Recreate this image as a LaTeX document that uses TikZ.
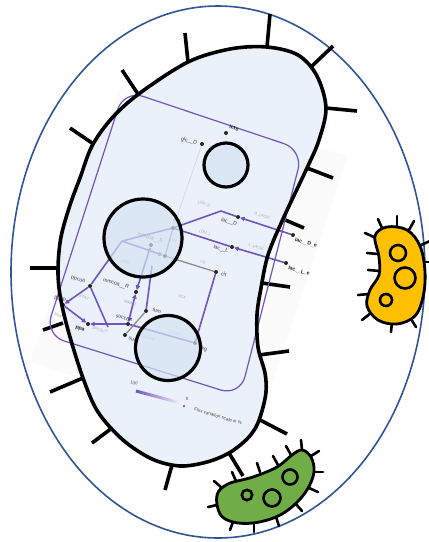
\documentclass[tikz,border=0pt]{standalone}
\usepackage{fontspec}
\setmainfont{Liberation Sans}
\usetikzlibrary{arrows.meta}
\definecolor{ringblue}{RGB}{47,85,151}
\definecolor{cellfill}{RGB}{234,241,250}
\definecolor{vacfill}{RGB}{214,228,244}
\definecolor{mpurple}{RGB}{112,84,192}
\definecolor{yellowbug}{RGB}{255,192,0}
\definecolor{greenbug}{RGB}{112,173,71}

\tikzset{
  spike/.style={line width=3.6pt, line cap=butt},
  bugspike/.style={line width=2.6pt, line cap=round},
  rxn/.style={draw=mpurple, line width=1.6pt},
  rxngray/.style={draw=black!45, line width=1.3pt},
  rxnfaint/.style={draw=mpurple!25, line width=0.8pt},
  comp/.style={draw=mpurple, line width=1.2pt, rounded corners=20pt},
  met/.style={circle, fill=black!85, inner sep=0pt, minimum size=4pt},
  mlab/.style={font=\fontsize{5.2}{6}\selectfont, text=black!75, inner sep=0.5pt, rotate=-16},
  mlabb/.style={font=\fontsize{5.2}{6}\selectfont\bfseries, text=black!85, inner sep=0.5pt, rotate=-16},
  rlab/.style={font=\fontsize{3.9}{4.5}\selectfont\itshape, text=black!35, inner sep=0.5pt, rotate=-16},
  vac/.style={draw=black, line width=3.2pt, fill=vacfill, fill opacity=0.7},
  >={Triangle[length=4.4pt,width=4.4pt]}
}

\def\cellpath{plot[smooth cycle, tension=0.55] coordinates {
  (140,93) (188,62) (230,49) (267,47) (298,55) (317,76) (326,108) (319,140)
  (307,168) (283,219) (268,255) (261,288) (257,315) (258,347) (265,373)
  (266,392) (262,411) (256,427) (246,440) (229,453) (207,462) (180,466)
  (152,459) (123,440) (98,412) (83,378) (68,330) (60,295) (58,268) (61,237)
  (70,205) (80,178) (92,146) (112,118)}}

\begin{document}
\begin{tikzpicture}[x=1pt,y=-1pt]
\useasboundingbox (0,0) rectangle (429,542);

% outer ring
\draw[ringblue, line width=1.6pt] (218,272) ellipse [x radius=207, y radius=266];

% pale backdrop of the flux map
\fill[black!1.5] (120,87) -- (348,156) -- (255,436) -- (30,362) -- cycle;

% cell spikes
\foreach \xa/\ya/\xb/\yb in {138/94/122/70, 188/62/185/33, 267/47/270/14,
  312/66/333/46, 326/108/357/111, 307/168/333/178,
  283/219/304/228, 262/283/290/287, 259/355/289/351, 260/420/287/434,
  229/453/243/476, 172/465/165/490, 112/428/92/443,
  83/378/50/392, 63/323/43/330, 58/268/30/268, 92/143/70/128}
  \draw[spike] (\xa,\ya) -- (\xb,\yb);

% cell body
\fill[cellfill] \cellpath;

% ---------- flux map ----------
\draw[comp] (124,90) -- (303,150) -- (240,396) -- (45,335) -- cycle;

\node[met] (lcts) at (226,133) {};
\node[met] (glc) at (202,144) {};
\node[met] (pyr) at (173,228) {};
\node[met] (accoa) at (165,256) {};
\node[met] (mmcoaS) at (151,245) {};
\node[met] (mmcoaR) at (136,292) {};
\node[met] (ppcoa) at (90,286) {};
\node[met] (ppap) at (63,305) {};
\node[met] (ppa) at (88,324) {};
\node[met] (succoa) at (128,324) {};
\node[met] (succ) at (125,335) {};
\node[met] (fum) at (146,311) {};
\node[met] (akg) at (195,343) {};
\node[met] (cit) at (216,272) {};
\node[met] (lacD) at (238,217) {};
\node[met] (lacL) at (232,247) {};
\node[met] (lacDe) at (293,235) {};
\node[met] (lacLe) at (286,263) {};

\coordinate (j1) at (122,241);
\coordinate (j2) at (108,327);
\coordinate (mal) at (152,266);
\coordinate (bend) at (221,211);

\draw[rxnfaint] (glc) -- (pyr);
\draw[rxngray] (pyr) -- (accoa);
\draw[rxn] (j1) -- (pyr);
\draw[rxn,->] (j1) -- (accoa);
\draw[rxn] (j1) -- (ppcoa);
\draw[rxn] (pyr) -- (bend) -- (lacD);
\draw[rxn] (pyr) -- (lacL);
\draw[rxn,->] (lacDe) -- (lacD);
\draw[rxn,->] (lacLe) -- (lacL);
\draw[rxngray] (accoa) -- (cit);
\draw[rxn] (cit) -- (akg);
\draw[rxn,<->] (mmcoaS) -- (mmcoaR);
\draw[rxn,<->] (mmcoaR) -- (succoa);
\draw[rxn,->] (ppcoa) -- (ppap);
\draw[rxn,->] (ppap) -- (ppa);
\draw[rxn,->] (succoa) -- (ppa);
\draw[rxn] (ppcoa) -- (j2);
\draw[rxn] (akg) -- (succoa);
\draw[rxngray] (fum) -- (succ);
\draw[rxn] (fum) -- (mal);

% metabolite labels
\node[mlabb] (t-lcts) at (234,128) {lcts};
\node[mlab] (t-glc) at (189,141) {glc\_\_D};
\node[mlab] (t-pyr) at (177,221) {pyr};
\node[mlab] (t-mmcoaS) at (150,238) {mmcoa\_\_S};
\node[mlab] (t-mmcoaR) at (116,284) {mmcoa\_\_R};
\node[mlab] (t-ppcoa) at (78,280) {ppcoa};
\node[mlab] (t-ppap) at (60,299) {ppap};
\node[mlabb] (t-ppa) at (80,329) {ppa};
\node[mlab] (t-succoa) at (124,318) {succoa};
\node[mlab] (t-succ) at (134,340) {succ};
\node[mlab] (t-fum) at (157,311) {fum};
\node[mlab] (t-akg) at (203,349) {akg};
\node[mlab] (t-cit) at (224,274) {cit};
\node[mlab] (t-lacD) at (229,222) {lac\_\_D};
\node[mlab] (t-lacL) at (221,249) {lac\_\_L};
\node[mlabb] (t-lacDe) at (306,243) {lac\_\_D\_e};
\node[mlabb] (t-lacLe) at (299,271) {lac\_\_L\_e};

% reaction labels
\node[rlab] (r-ldhd) at (204,204) {LDH\_D};
\node[rlab] (r-ldhl) at (205,233) {LDH\_L};
\node[rlab] (r-dlac) at (262,216) {D\_LACt2};
\node[rlab] (r-llac) at (256,247) {L\_LACt2};
\node[rlab] (r-cs) at (203,262) {CS};
\node[rlab] (r-pfl) at (174,241) {PFL};
\node[rlab] (r-mme) at (125,262) {MME};
\node[rlab] (r-mmm) at (130,303) {MMM2};
\node[rlab] (r-pta) at (84,297) {PTA2};
\node[rlab] (r-ppak) at (60,316) {PPAKr};
\node[rlab] (r-ppcsct) at (100,330) {PPCSCT};
\node[rlab] (r-oor) at (174,333) {OOR3r};
\node[rlab] (r-frd) at (147,338) {FRD2rpp};
\node[rlab] (r-tca) at (182,297) {TCA};

% flux scale
\shade[left color=mpurple, right color=white, rotate around={-15:(136,391)}]
  (136,389.5) rectangle (186,392.5);
\node[font=\fontsize{4.4}{5}\selectfont, text=black!70, rotate=-15] (s-max) at (134,383) {100};
\node[font=\fontsize{4.4}{5}\selectfont, text=black!70] (s-min) at (187,399) {0};
\node[circle, fill=black!70, inner sep=0pt, minimum size=2.4pt] (s-dot) at (184,406) {};
\begin{scope}
  \clip \cellpath;
  \node[font=\fontsize{4.6}{5}\selectfont, text=black!70, rotate=-17, anchor=west] (s-txt) at (191,408) {Flux variation scale in \%};
\end{scope}

% vacuoles
\draw[vac] (226,165) circle [radius=22];
\draw[vac] (143,238) circle [radius=39];
\draw[vac] (168,348) circle [radius=32.5];

% cell outline
\draw[line width=3.6pt] \cellpath;

% ---------- yellow bacterium ----------
\foreach \xa/\ya/\xb/\yb in {382/228/378/219, 397/226/397/216, 409/230/414/221,
  376/238/365/233, 378/254/367/253, 380/271/368/270,
  369/294/358/295, 371/313/362/320, 392/322/391/332,
  411/319/416/327, 421/245/430/241, 423/262/431/262}
  \draw[bugspike] (\xa,\ya) -- (\xb,\yb);
\draw[fill=yellowbug, line width=2.8pt] plot[smooth cycle, tension=0.6] coordinates {
  (375,236) (387,227) (407,230) (420,246) (425,272) (423,297) (415,316)
  (397,324) (378,320) (367,306) (370,290) (379,275) (379,257)};
\draw[line width=2.6pt] (398,253) circle [radius=8];
\draw[line width=2.6pt] (405,278) circle [radius=10.5];
\draw[line width=2.6pt] (386,300) circle [radius=6];

% ---------- green bacterium ----------
\foreach \xa/\ya/\xb/\yb in {222/488/214/481, 236/481/232/472, 260/472/257/463,
  278/465/273/456, 291/455/286/446, 302/450/301/440,
  311/456/319/451, 314/472/323/472, 309/488/318/492,
  296/504/302/511, 276/517/279/526, 254/523/254/532,
  233/522/230/530, 217/505/208/507}
  \draw[bugspike] (\xa,\ya) -- (\xb,\yb);
\draw[fill=greenbug, line width=2.8pt] plot[smooth cycle, tension=0.6] coordinates {
  (217,495) (228,484) (253,477) (277,467) (292,455) (302,450) (311,457)
  (314,472) (307,490) (293,506) (276,517) (253,523) (233,522) (220,514)};
\draw[line width=2.6pt] (247,495) circle [radius=5.2];
\draw[line width=2.6pt] (272,498) circle [radius=8.5];
\draw[line width=2.6pt] (290,477) circle [radius=7.5];
\end{tikzpicture}
\end{document}
